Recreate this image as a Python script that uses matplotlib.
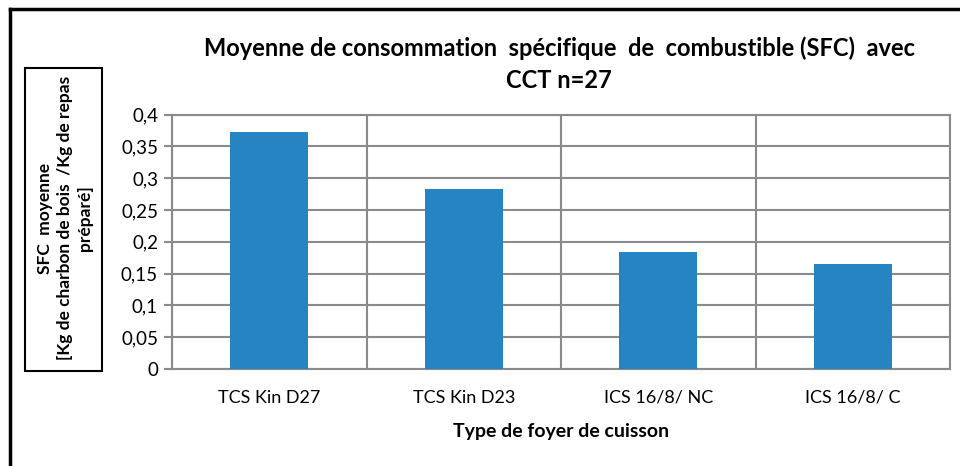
import matplotlib
matplotlib.use("Agg")
import matplotlib.pyplot as plt
from matplotlib.lines import Line2D
from matplotlib.patches import Rectangle
from matplotlib.ticker import FuncFormatter

categories = ["TCS Kin D27", "TCS Kin D23", "ICS 16/8/ NC", "ICS 16/8/ C"]
values = [0.372, 0.283, 0.184, 0.165]
yticks = [0, 0.05, 0.1, 0.15, 0.2, 0.25, 0.3, 0.35, 0.4]

FONT = ["Lato", "DejaVu Sans"]
plt.rcParams['font.family'] = FONT

fig = plt.figure(figsize=(9.6, 4.66), dpi=100)
W, H = 960, 466
def fx(x): return x / W
def fy(y): return 1 - y / H

# outer chart border (top and left visible)
fig.add_artist(Line2D([fx(10), 1.0], [fy(8.5), fy(8.5)], color='black', lw=2.5, transform=fig.transFigure))
fig.add_artist(Line2D([fx(10), fx(10)], [fy(8.5), 0], color='black', lw=2.5, transform=fig.transFigure))

left, right, top, bottom = 172, 950, 114.5, 369
ax = fig.add_axes([fx(left), fy(bottom), fx(right - left), fy(top) - fy(bottom)])
n = len(categories)
ax.bar(range(n), values, width=0.4, color='#2784C3', zorder=3)
ax.set_xlim(-0.5, n - 0.5)
ax.set_ylim(0, 0.4)
ax.set_yticks(yticks)
ax.yaxis.set_major_formatter(FuncFormatter(lambda v, p: ('%g' % v).replace('.', ',')))
ax.set_xticks(range(n))
ax.set_xticklabels(categories)
# category separators
ax.set_xticks([i + 0.5 for i in range(-1, n)], minor=True)
ax.grid(True, axis='y', color='#8a8a8a', lw=1.5, zorder=0)
ax.grid(True, axis='x', which='minor', color='#8a8a8a', lw=1.5, zorder=0)
ax.grid(False, axis='x', which='major')
for s in ax.spines.values():
    s.set_color('#8a8a8a'); s.set_linewidth(1.5)
ax.tick_params(axis='y', length=6, width=1.5, color='#8a8a8a', labelsize=13.5, pad=4, labelcolor='#000000')
ax.tick_params(axis='x', which='both', length=0, labelsize=13, pad=15)

ax.set_xlabel("Type de foyer de cuisson", fontsize=14, fontweight='bold', labelpad=12)

fig.text(fx(559), fy(48), "Moyenne de consommation  spécifique  de  combustible (SFC)  avec",
         ha='center', va='center', fontsize=17, fontweight='bold')
fig.text(fx(559), fy(80), "CCT n=27", ha='center', va='center', fontsize=17, fontweight='bold')

# y label box
fig.add_artist(Rectangle((fx(25), fy(371)), fx(77), fy(68) - fy(371), fill=False,
                         edgecolor='black', lw=1.5, transform=fig.transFigure))
fig.text(fx(65), fy(218), "SFC  moyenne\n[Kg de charbon de bois  /Kg de repas\npréparé]",
         rotation=90, ha='center', va='center', ma='center', fontsize=12.5, fontweight='bold',
         linespacing=1.3)

fig.savefig("out.png", dpi=100)
